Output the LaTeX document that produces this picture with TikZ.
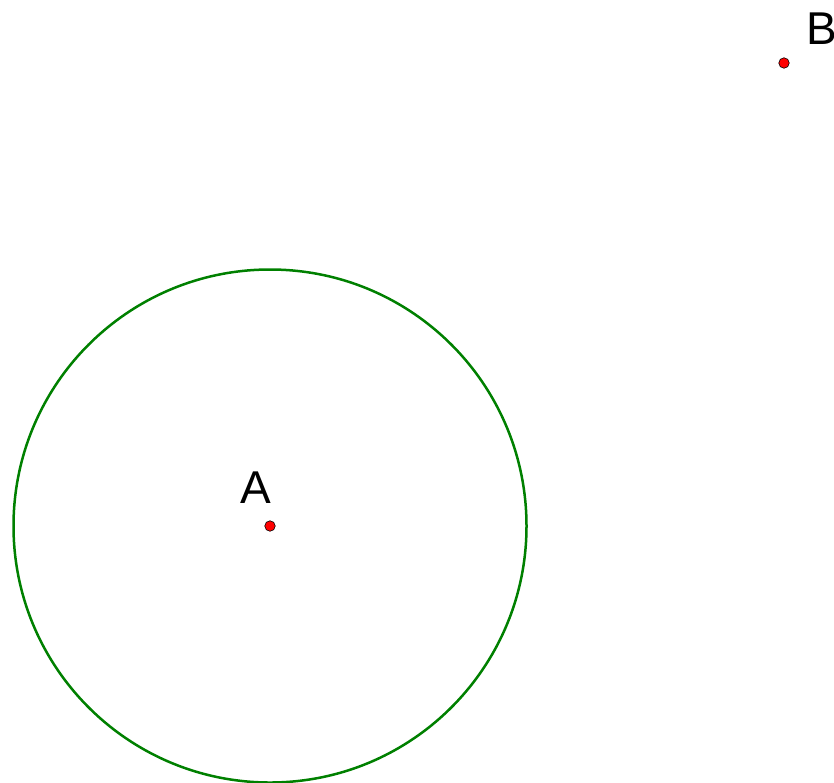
\documentclass[tikz,border=0pt]{standalone}
\usepackage{fontspec}
\setmainfont{Liberation Sans}
\tikzset{
  pt/.style={circle,fill=red,draw=black,line width=0.6pt,inner sep=0pt,minimum size=10.5pt},
  lbl/.style={font=\fontsize{46}{46}\selectfont,inner sep=0pt,anchor=base west},
  circ/.style={draw=green!50!black,line width=2.5pt}
}
\begin{document}
\begin{tikzpicture}[x=1pt,y=-1pt]
\useasboundingbox (0,0) rectangle (834,782);
\draw[circ] (270,526) circle[radius=256.5];
\node[pt] (A) at (270,526) {};
\node[pt] (B) at (784,63) {};
\node[lbl] (la) at (240,503) {A};
\node[lbl] (lb) at (806,44) {B};
\end{tikzpicture}
\end{document}
